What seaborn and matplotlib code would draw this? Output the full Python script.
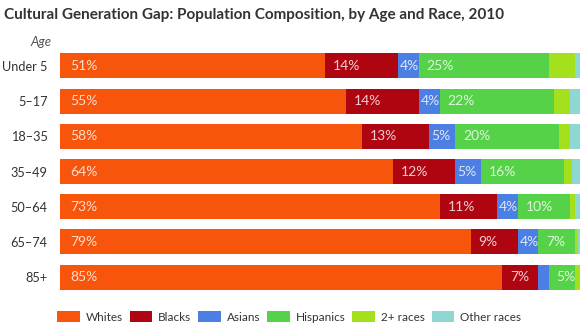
import matplotlib
matplotlib.use("Agg")
import matplotlib.pyplot as plt
import seaborn as sns
import numpy as np
import pandas as pd
from matplotlib.patches import Patch

ages = ["Under 5", "5–17", "18–35", "35–49", "50–64", "65–74", "85+"]
groups = ["Whites", "Blacks", "Asians", "Hispanics", "2+ races", "Other races"]
whites = [51, 55, 58, 64, 73, 79, 85]
blacks = [14, 14, 13, 12, 11, 9, 7]
asians = [4, 4, 5, 5, 4, 4, 2]
hispanics = [25, 22, 20, 16, 10, 7, 5]
two_plus = [5, 3, 2, 1.5, 1, 0.6, 1]
other = [1, 2, 2, 1.5, 1, 0.4, 0]
labels = {
    "Whites": ["51%", "55%", "58%", "64%", "73%", "79%", "85%"],
    "Blacks": ["14%", "14%", "13%", "12%", "11%", "9%", "7%"],
    "Asians": ["4%", "4%", "5%", "5%", "4%", "4%", ""],
    "Hispanics": ["25%", "22%", "20%", "16%", "10%", "7%", "5%"],
}
colors = ["#F7540C", "#AE0511", "#4B7FE3", "#55D248", "#A5E01C", "#8FD7D2"]

series = [whites, blacks, asians, hispanics, two_plus, other]
df = pd.DataFrame(dict(zip(groups, series)), index=ages)
cum = df.cumsum(axis=1)

sns.set_theme(style="white")
plt.rcParams["font.family"] = ["Lato", "DejaVu Sans"]

fig = plt.figure(figsize=(5.8, 3.33), dpi=100)
ax = fig.add_axes([60 / 580, 1 - 294.6 / 333, 1 - 60 / 580, (294.6 - 48.4) / 333])

for g, c in reversed(list(zip(groups, colors))):
    d = pd.DataFrame({"age": ages, "val": cum[g].values})
    sns.barplot(data=d, x="val", y="age", orient="h", color=c, width=0.71,
                saturation=1, ax=ax, linewidth=0)

for i, g in enumerate(groups[:4]):
    start = cum[g].values - df[g].values
    off = 0.4 if g == "Asians" else (1.9 if g == "Whites" else 1.5)
    for j, lab in enumerate(labels[g]):
        if lab:
            ax.text(start[j] + off, j, lab, va="center", ha="left",
                    color="white", alpha=0.8, fontsize=10)

ax.set_xlim(0, 100)
ax.set_ylim(6.5, -0.5)
ax.set_xlabel("")
ax.set_ylabel("")
ax.set_xticks([])
ax.tick_params(axis="y", length=0, pad=9, labelsize=9.2, labelcolor="#333333")
for s in ax.spines.values():
    s.set_visible(False)

fig.text(4 / 580, 1 - 15 / 333, "Cultural Generation Gap: Population Composition, by Age and Race, 2010",
         ha="left", va="center", fontsize=11, fontweight="bold", color="#333333")
fig.text(52 / 580, 1 - 42 / 333, "Age", ha="right", va="center", fontsize=9.5,
         style="italic", color="#555555")

handles = [Patch(facecolor=c, edgecolor="none") for c in colors]
fig.legend(handles, groups, loc="center", bbox_to_anchor=(289 / 580, 1 - 317 / 333),
           ncol=6, frameon=False, fontsize=8.5, handlelength=1.9, handleheight=1.0,
           handletextpad=0.5, columnspacing=0.6, labelcolor="#333333")

fig.savefig("out.png", dpi=100)
